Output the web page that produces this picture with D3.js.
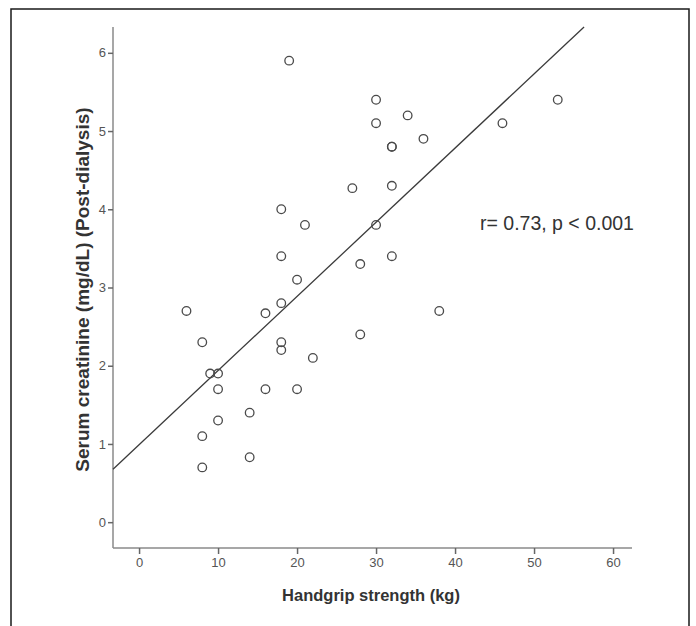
<!DOCTYPE html>
<html>
<head>
<meta charset="utf-8">
<script src="https://cdn.jsdelivr.net/npm/d3@7"></script>
<style>
  html, body { margin: 0; padding: 0; background: #fff; }
  svg { display: block; }
</style>
</head>
<body>
<svg id="chart" width="696" height="626"></svg>
<script>
// Handgrip strength (kg) vs post-dialysis serum creatinine (mg/dL)
const handgrip = [6, 8, 9, 10, 10, 10, 8, 8, 14, 14, 16, 16, 18, 18, 18, 18, 18, 19, 20, 20,
                  21, 22, 27, 28, 28, 30, 30, 30, 34, 32, 32, 32, 32, 36, 38, 46, 53];
const creatinine = [2.7, 2.3, 1.9, 1.9, 1.7, 1.3, 1.1, 0.7, 1.4, 0.83, 2.67, 1.7, 4.0, 3.4, 2.8, 2.3, 2.2, 5.9, 3.1, 1.7,
                    3.8, 2.1, 4.27, 3.3, 2.4, 5.4, 5.1, 3.8, 5.2, 4.8, 4.8, 4.3, 3.4, 4.9, 2.7, 5.1, 5.4];

const xTicks = [0, 10, 20, 30, 40, 50, 60];
const yTicks = [0, 1, 2, 3, 4, 5, 6];

// Least-squares fit line
const fitIntercept = 0.99;
const fitSlope = 0.0948;
const annotation = "r= 0.73, p < 0.001";

const xTitle = "Handgrip strength (kg)";
const yTitle = "Serum creatinine (mg/dL) (Post-dialysis)";

const svg = d3.select("#chart");

// outer frame (open at the bottom)
svg.append("path")
  .attr("d", "M11,630 L11,9 L689,9 L689,630")
  .attr("fill", "none")
  .attr("stroke", "#1a1a1a")
  .attr("stroke-width", 1.5);

const plot = { left: 113, right: 632, top: 27, bottom: 548 };

const x = d3.scaleLinear().domain([-3.3, 62.4]).range([plot.left, plot.right]);
const y = d3.scaleLinear().domain([-0.33, 6.33]).range([plot.bottom, plot.top]);

const axisColor = "#8a8a8a";
const tickTextColor = "#555";
const sans = "Liberation Sans, Arial, sans-serif";

// x axis
const gx = svg.append("g").attr("transform", `translate(0,${plot.bottom})`)
  .call(d3.axisBottom(x).tickValues(xTicks).tickFormat(d3.format("d"))
    .tickSize(6).tickPadding(4).tickSizeOuter(0));
gx.select(".domain").attr("stroke", axisColor).attr("stroke-width", 1.5)
  .attr("d", `M${plot.left},0H${plot.right}`);
gx.selectAll(".tick line").attr("stroke", "#666").attr("stroke-width", 1.5);
gx.selectAll(".tick text").attr("fill", tickTextColor)
  .attr("font-family", sans).attr("font-size", 13);

// y axis
const gy = svg.append("g").attr("transform", `translate(${plot.left},0)`)
  .call(d3.axisLeft(y).tickValues(yTicks).tickFormat(d3.format("d"))
    .tickSize(5).tickPadding(2).tickSizeOuter(0));
gy.select(".domain").attr("stroke", axisColor).attr("stroke-width", 1.5)
  .attr("d", `M0,${plot.top}V${plot.bottom}`);
gy.selectAll(".tick line").attr("stroke", "#666").attr("stroke-width", 1.5);
gy.selectAll(".tick text").attr("fill", tickTextColor)
  .attr("font-family", sans).attr("font-size", 13);

// axis titles
svg.append("text")
  .attr("x", 371).attr("y", 601)
  .attr("text-anchor", "middle")
  .attr("font-family", sans).attr("font-weight", "bold").attr("font-size", 16.5)
  .attr("fill", "#333")
  .text(xTitle);

svg.append("text")
  .attr("transform", `translate(89,${(y(6) + y(0)) / 2 + 2}) rotate(-90)`)
  .attr("text-anchor", "middle")
  .attr("font-family", sans).attr("font-weight", "bold").attr("font-size", 19)
  .attr("fill", "#333")
  .text(yTitle);

// regression line, from the left edge to where it meets the top of the plot
const xStart = x.domain()[0];
const xEnd = (y.domain()[1] - fitIntercept) / fitSlope;
svg.append("line")
  .attr("x1", x(xStart)).attr("y1", y(fitIntercept + fitSlope * xStart))
  .attr("x2", x(xEnd)).attr("y2", y(fitIntercept + fitSlope * xEnd))
  .attr("stroke", "#3a3a3a").attr("stroke-width", 1.3);

// data points
svg.append("g").selectAll("circle")
  .data(d3.range(handgrip.length))
  .join("circle")
  .attr("cx", i => x(handgrip[i]))
  .attr("cy", i => y(creatinine[i]))
  .attr("r", 4.3)
  .attr("fill", "none")
  .attr("stroke", "#4a4a4a")
  .attr("stroke-width", 1.3);

// correlation annotation
svg.append("text")
  .attr("x", 480).attr("y", 230)
  .attr("font-family", sans).attr("font-size", 19.5)
  .attr("fill", "#333")
  .text(annotation);
</script>
</body>
</html>
